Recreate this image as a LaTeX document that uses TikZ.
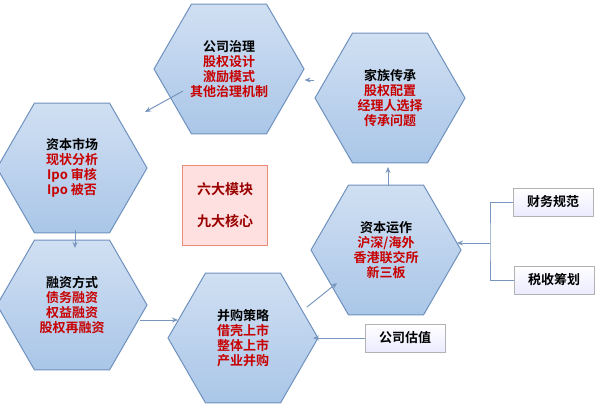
\documentclass[tikz,border=0pt]{standalone}
\usepackage{fontspec}
\setmainfont{Noto Sans CJK SC}[BoldFont={* Bold}]
\usetikzlibrary{shapes.geometric,arrows.meta}
\definecolor{hexfill}{RGB}{170,198,232}
\definecolor{hexdraw}{RGB}{110,145,190}
\definecolor{lnk}{RGB}{120,150,190}
\definecolor{redt}{RGB}{200,0,0}
\tikzset{
 hex/.style={regular polygon,regular polygon sides=6,minimum size=150pt,inner sep=0pt,draw=hexdraw,line width=1pt,top color=hexfill!55!white,bottom color=hexfill,align=center,font=\bfseries\fontsize{13}{15}\selectfont},
 sbox/.style={draw=gray!60,top color=white,bottom color=blue!8,minimum width=80pt,minimum height=28pt,font=\bfseries\fontsize{13}{15}\selectfont},
 arr/.style={draw=lnk,line width=1pt,-{Stealth[length=6pt,width=5pt]}}
}
\newcommand{\rd}[1]{\textcolor{redt}{#1}}
\begin{document}
\begin{tikzpicture}[x=1pt,y=-1pt]
\useasboundingbox (0,0) rectangle (600,418);
\node[hex] (gs) at (229,69) {公司治理\\\rd{股权设计}\\\rd{激励模式}\\\rd{其他治理机制}};
\node[hex] (jz) at (390,98) {家族传承\\\rd{股权配置}\\\rd{经理人选择}\\\rd{传承问题}};
\node[hex] (sc) at (72,168) {资本市场\\\rd{现状分析}\\\rd{Ipo 审核}\\\rd{Ipo 被否}};
\node[hex] (rz) at (72,305) {融资方式\\\rd{债务融资}\\\rd{权益融资}\\\rd{股权再融资}};
\node[hex] (bg) at (243,338) {并购策略\\\rd{借壳上市}\\\rd{整体上市}\\\rd{产业并购}};
\node[hex] (yz) at (386,250) {资本运作\\\rd{沪深/海外}\\\rd{香港联交所}\\\rd{新三板}};
\node[draw=red!50!brown!60,fill=red!12,minimum width=85pt,minimum height=80pt,align=center,font=\bfseries\fontsize{14}{32}\selectfont,text=red!60!black] (center) at (225,205) {六大模块\\九大核心};
\node[sbox] (cw) at (553,202) {财务规范};
\node[sbox] (ss) at (554,280) {税收筹划};
\node[sbox] (gz) at (405,338) {公司估值};
\coordinate (br) at (490,243);
\draw[arr] (jz.west |- 0,80) -- (gs.east |- 0,80);
\draw[arr] (183,91) -- (145,112);
\draw[arr] (75,230) -- (75,248);
\draw[arr] (140,320) -- (178,320);
\draw[arr] (307,307) -- (337,283);
\draw[arr] (388,186) -- (388,167);
\draw[draw=lnk,line width=1pt] (cw.west) -| (br) |- (ss.west);
\draw[arr] (br) -- (457,243);
\draw[arr] (gz.west) -- (313,338);
\end{tikzpicture}
\end{document}
